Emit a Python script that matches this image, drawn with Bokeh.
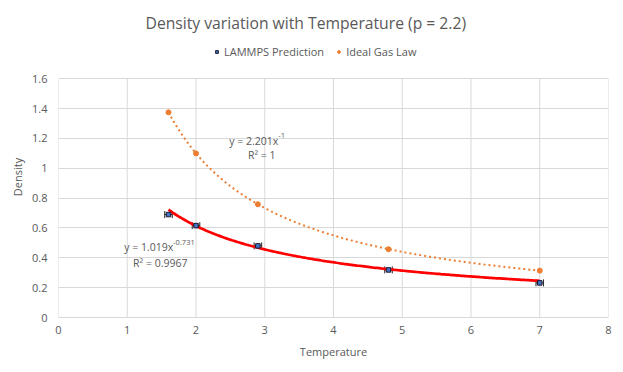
import numpy as np
from bokeh.plotting import figure
from bokeh.models import (ColumnDataSource, Whisker, TeeHead, Legend, LegendItem,
                          Label, FixedTicker)
from bokeh.embed import file_html
from bokeh.resources import INLINE

# ---- data ----
temperature = [1.6, 2.0, 2.9, 4.8, 7.0]
lammps_density = [0.690, 0.616, 0.480, 0.319, 0.232]
ideal_density = [1.375, 1.100, 0.759, 0.458, 0.314]
temp_error = [0.055, 0.055, 0.055, 0.055, 0.055]

# trendline parameters (power fits shown on the chart)
lammps_a, lammps_b = 1.019, -0.731
ideal_a, ideal_b = 2.201, -1.0

x_ticks = [0, 1, 2, 3, 4, 5, 6, 7, 8]
y_ticks = [0, 0.2, 0.4, 0.6, 0.8, 1.0, 1.2, 1.4, 1.6]
y_max = 1.6

FONT = "Open Sans"
GREY = "#595959"
GRID = "#d9d9d9"

# frame extends above the value area so the legend can sit there unclipped
frame_top_px, axis_top_px, axis_bottom_px = 36, 78.3, 317
y_top = y_max * (axis_bottom_px - frame_top_px) / (axis_bottom_px - axis_top_px)

p = figure(width=615, height=364, output_backend="svg", toolbar_location=None,
           x_range=(0, 8), y_range=(0, y_top),
           min_border_left=58, min_border_right=7, min_border_top=frame_top_px,
           min_border_bottom=47, outline_line_color=None,
           title="Density variation with Temperature (p = 2.2)")

p.title.align = "left"
p.title.offset = 87
p.title.standoff = 6
p.title.text_font = FONT
p.title.text_font_size = "15.7px"
p.title.text_font_style = "normal"
p.title.text_color = GREY

for ax in (p.xaxis, p.yaxis):
    ax.major_tick_line_color = None
    ax.minor_tick_line_color = None
    ax.major_tick_out = 0
    ax.major_tick_in = 0
    ax.major_label_text_font = FONT
    ax.major_label_text_font_size = "11px"
    ax.major_label_text_color = GREY
    ax.axis_label_text_font = FONT
    ax.axis_label_text_font_size = "11px"
    ax.axis_label_text_font_style = "normal"
    ax.axis_label_text_color = GREY

p.xaxis.axis_line_color = GRID
p.yaxis.axis_line_color = None
p.yaxis.bounds = (0, y_max)
p.xaxis.ticker = FixedTicker(ticks=x_ticks)
p.yaxis.ticker = FixedTicker(ticks=y_ticks)
p.yaxis.major_label_overrides = {0: "0", 1.0: "1"}
p.xaxis.axis_label = "Temperature"
p.yaxis.axis_label = "Density"
p.xaxis.major_label_standoff = 8
p.xaxis.axis_label_standoff = 7
p.yaxis.major_label_standoff = 11
p.yaxis.axis_label_standoff = 4

p.xgrid.grid_line_color = None
p.ygrid.grid_line_color = GRID
# vertical gridlines limited to the value area
p.segment(x0=x_ticks, y0=[0] * len(x_ticks), x1=x_ticks, y1=[y_max] * len(x_ticks),
          line_color=GRID, line_width=1)

# trendlines
xs = np.linspace(min(temperature), max(temperature), 200)
p.line(xs, ideal_a * xs ** ideal_b, line_color="#ED7D31", line_width=2,
       line_dash="2 3")
p.line(xs, lammps_a * xs ** lammps_b, line_color="#FF0000", line_width=2.75)

src = ColumnDataSource(dict(
    x=temperature, y=lammps_density,
    lo=[t - e for t, e in zip(temperature, temp_error)],
    hi=[t + e for t, e in zip(temperature, temp_error)]))

wh = Whisker(source=src, base="y", lower="lo", upper="hi", dimension="width",
             line_color="#262626", line_width=1,
             upper_head=TeeHead(size=7, line_color="#262626", line_width=1),
             lower_head=TeeHead(size=7, line_color="#262626", line_width=1))
p.add_layout(wh)

r_lammps = p.scatter("x", "y", source=src, marker="square", size=4.5,
                     fill_color="#4472C4", line_color="#1a1a2e", line_width=1)
r_ideal = p.scatter(temperature, ideal_density, marker="circle", size=5,
                    fill_color="#ED7D31", line_color="#ED7D31")

legend = Legend(items=[LegendItem(label="LAMMPS Prediction", renderers=[r_lammps]),
                       LegendItem(label="Ideal Gas Law", renderers=[r_ideal])],
                orientation="horizontal", location=(155, 258),
                label_text_font=FONT, label_text_font_size="11px",
                label_text_color=GREY, border_line_color=None,
                background_fill_alpha=0, glyph_width=7, glyph_height=7,
                label_standoff=4, spacing=11, padding=0, margin=0,
                label_height=14)
p.add_layout(legend)

# trendline equations
lab_kw = dict(text_font=FONT, text_color=GREY, text_font_size="10.5px")
sup_kw = dict(text_font=FONT, text_color=GREY, text_font_size="7.5px")
p.add_layout(Label(x=3.196, y=1.186, text="y = 2.201x", text_align="right",
                   text_baseline="middle", **lab_kw))
p.add_layout(Label(x=3.196, y=1.22, text="-1", text_align="left",
                   text_baseline="middle", **sup_kw))
p.add_layout(Label(x=2.956, y=1.086, text="R² = 1", text_align="center",
                   text_baseline="middle", **lab_kw))

p.add_layout(Label(x=1.668, y=0.471, text="y = 1.019x", text_align="right",
                   text_baseline="middle", **lab_kw))
p.add_layout(Label(x=1.668, y=0.503, text="-0.731", text_align="left",
                   text_baseline="middle", **sup_kw))
p.add_layout(Label(x=1.48, y=0.367, text="R² = 0.9967", text_align="center",
                   text_baseline="middle", **lab_kw))

open("out.html", "w").write(file_html(p, INLINE))
